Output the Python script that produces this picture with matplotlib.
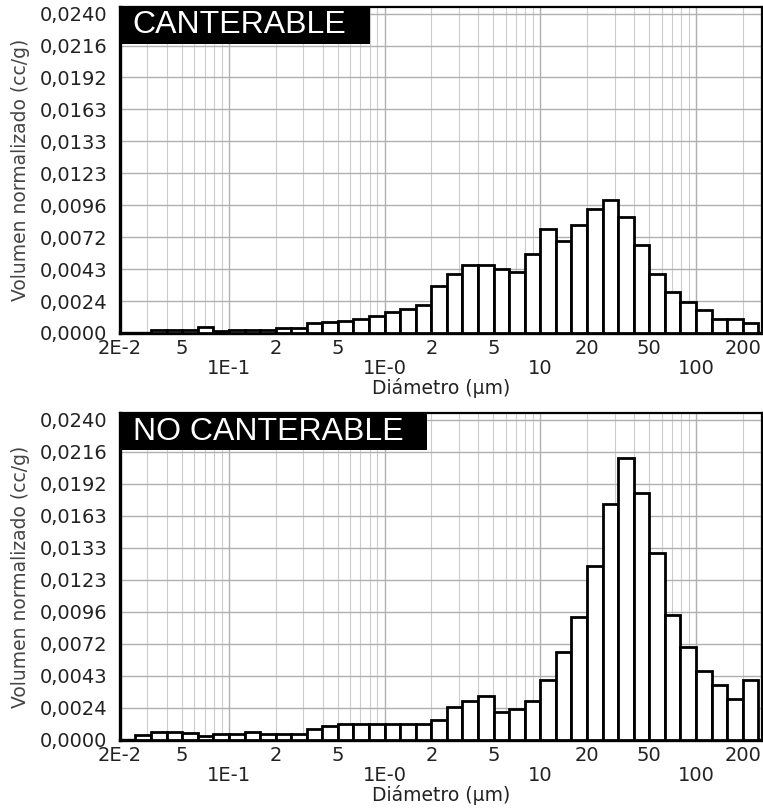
import numpy as np
import matplotlib
matplotlib.use('Agg')
import matplotlib.pyplot as plt
from matplotlib.patches import Rectangle

# Bordes de las clases de tamaño (µm), 10 clases por década
bordes = [0.0200, 0.0251, 0.0316, 0.0398, 0.0501, 0.0631, 0.0794,
          0.100, 0.126, 0.158, 0.200, 0.251, 0.316, 0.398, 0.501, 0.631, 0.794,
          1.00, 1.26, 1.58, 2.00, 2.51, 3.16, 3.98, 5.01, 6.31, 7.94,
          10.0, 12.6, 15.8, 20.0, 25.1, 31.6, 39.8, 50.1, 63.1, 79.4,
          100, 126, 158, 200, 251]

# Volumen normalizado (cc/g) por clase
canterable = [0, 0, 0.00026, 0.0002, 0.0002, 0.00045, 0.00012, 0.0002, 0.0002, 0.0002,
              0.0004, 0.0004, 0.00073, 0.0008, 0.0009, 0.00105, 0.0013, 0.0016, 0.0018, 0.0021,
              0.0035, 0.0044, 0.0051, 0.0051, 0.0048, 0.00455, 0.0059, 0.0078, 0.0069, 0.0081,
              0.0093, 0.0100, 0.0087, 0.0066, 0.0044, 0.0031, 0.0023, 0.0017, 0.00106, 0.00106,
              0.00076]
no_canterable = [0, 0.00035, 0.0006, 0.0006, 0.00055, 0.0003, 0.00042, 0.00042, 0.0006, 0.00042,
                 0.00042, 0.00042, 0.0008, 0.00104, 0.0012, 0.0012, 0.0012, 0.0012, 0.0012, 0.0012,
                 0.0015, 0.0025, 0.0029, 0.0033, 0.0021, 0.00235, 0.0029, 0.0045, 0.0066, 0.0092,
                 0.0130, 0.0177, 0.0211, 0.0185, 0.0140, 0.0094, 0.0070, 0.0052, 0.0041, 0.0031,
                 0.0045]

y_ticks = [0, 0.0024, 0.0048, 0.0072, 0.0096, 0.0120, 0.0144, 0.0168, 0.0192, 0.0216, 0.0240]
y_labels = ['0,0000', '0,0024', '0,0043', '0,0072', '0,0096', '0,0123',
            '0,0133', '0,0163', '0,0192', '0,0216', '0,0240']

x_mayores = [0.1, 1, 10, 100]
x_mayores_txt = ['1E-1', '1E-0', '10', '100']
x_etiquetas = {0.02: '2E-2', 0.05: '5', 0.2: '2', 0.5: '5', 2: '2', 5: '5',
               20: '20', 50: '50', 200: '200'}

paneles = [('CANTERABLE', canterable), ('NO CANTERABLE', no_canterable)]

plt.rcParams['font.family'] = 'DejaVu Sans'

fig = plt.figure(figsize=(7.63, 8.08), dpi=100)
posiciones = [[0.1573, 0.5879, 0.8414, 0.4035], [0.1573, 0.0842, 0.8414, 0.4047]]
anchos_caja = [0.389, 0.478]

izq = np.array(bordes[:-1])
anchos = np.diff(bordes)

# posiciones de las lineas menores (2..9 de cada decada)
menores = [m * d for d in [0.01, 0.1, 1, 10, 100] for m in range(2, 10)]
menores = [v for v in menores if 0.02 <= v <= 265]
menores_txt = [x_etiquetas.get(round(v, 4), '') for v in menores]

for i, (titulo, valores) in enumerate(paneles):
    ax = fig.add_axes(posiciones[i])
    ax.bar(izq, valores, width=anchos, align='edge', color='white',
           edgecolor='black', linewidth=2, zorder=3)
    ax.set_xscale('log')
    ax.set_xlim(0.02, 265)
    ax.set_ylim(0, 0.0245)

    ax.set_yticks(y_ticks, labels=y_labels)
    ax.set_xticks(x_mayores, labels=x_mayores_txt)
    ax.set_xticks(menores, labels=menores_txt, minor=True)
    ax.tick_params(axis='both', which='both', length=0, labelsize=14, colors='#222222')
    ax.tick_params(axis='x', which='major', pad=19)
    ax.tick_params(axis='x', which='minor', pad=4)
    ax.tick_params(axis='y', pad=9)

    ax.set_axisbelow(True)
    ax.grid(which='major', axis='both', color='#b0b0b0', linewidth=1)
    ax.grid(which='minor', axis='x', color='#cccccc', linewidth=0.8)

    for lado in ['left', 'bottom']:
        ax.spines[lado].set_linewidth(2.4)
    for lado in ['top', 'right']:
        ax.spines[lado].set_linewidth(1.6)

    ax.set_xlabel('Diámetro (µm)', fontsize=13.5, color='#222222', labelpad=0)
    ax.set_ylabel('Volumen normalizado (cc/g)', fontsize=13.5, color='#444444', labelpad=7)

    # caja negra con el titulo
    alto = 0.1135
    ax.add_patch(Rectangle((0, 1 - alto), anchos_caja[i], alto, transform=ax.transAxes,
                           facecolor='black', edgecolor='none', zorder=5))
    ax.text(0.02, 1 - alto / 2, titulo, transform=ax.transAxes, color='white',
            fontsize=23, family='Liberation Sans', va='center', ha='left', zorder=6)

fig.savefig('out.png', dpi=100)
